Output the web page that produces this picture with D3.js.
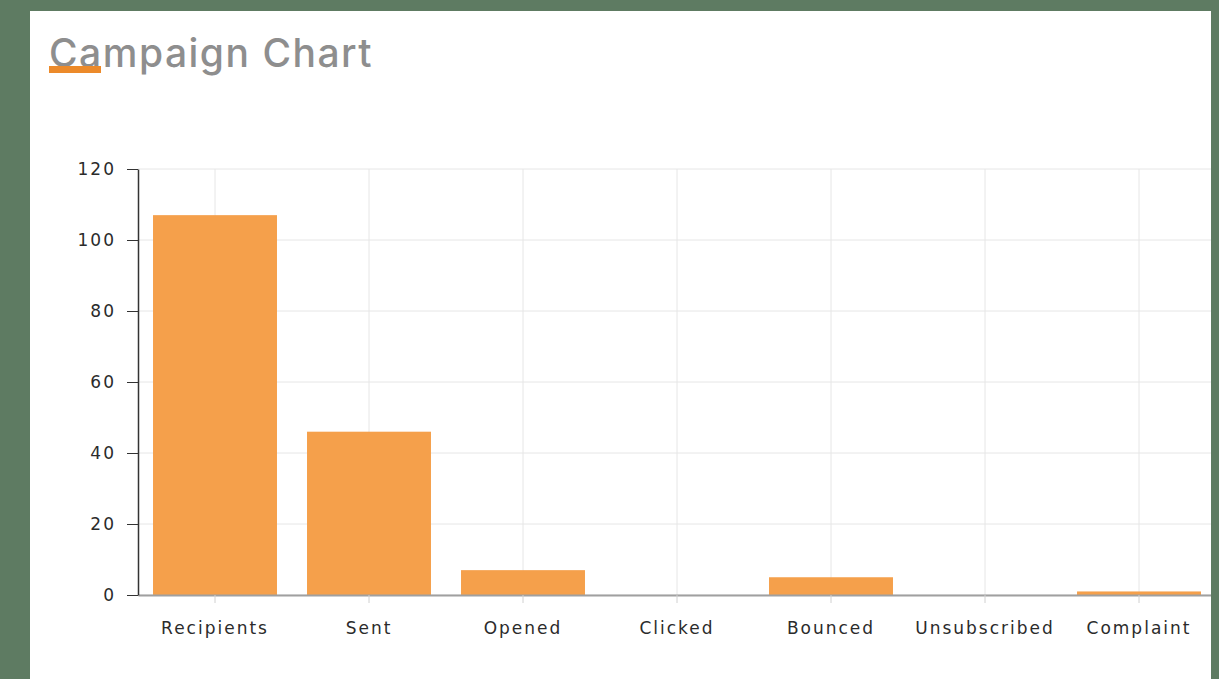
<!DOCTYPE html>
<html>
<head>
<meta charset="utf-8">
<script src="https://cdn.jsdelivr.net/npm/d3@7"></script>
<style>
  body { margin: 0; background: #5e7b62; }
  svg { display: block; }
</style>
</head>
<body>
<svg id="Canvas" width="1219" height="679"></svg>
<script>
var categories = ["Recipients", "Sent", "Opened", "Clicked", "Bounced", "Unsubscribed", "Complaint"];
var counts = [107, 46, 7, 0, 5, 0, 1];
var yTicks = [0, 20, 40, 60, 80, 100, 120];

var svg = d3.select("#Canvas");

// white panel
svg.append("rect")
  .attr("x", 30).attr("y", 11)
  .attr("width", 1181).attr("height", 668)
  .attr("fill", "#ffffff");

svg.append("text")
  .attr("x", 49).attr("y", 67)
  .attr("font-family", "Inter, 'Open Sans', sans-serif")
  .attr("font-size", 39)
  .attr("font-weight", 500)
  .attr("letter-spacing", 1.5)
  .attr("fill", "#8e8e8e")
  .text("Campaign Chart");

svg.append("rect")
  .attr("x", 49).attr("y", 66)
  .attr("width", 52).attr("height", 7)
  .attr("fill", "#ec8a2a");

var plotLeft = 138, plotBottom = 595, plotTop = 169;
var step = 154;

svg.append("clipPath").attr("id", "panel")
  .append("rect").attr("x", 30).attr("y", 0).attr("width", 1181).attr("height", 679);

var g = svg.append("g").attr("clip-path", "url(#panel)");

var x = d3.scaleBand()
  .domain(categories)
  .range([plotLeft, plotLeft + step * categories.length])
  .paddingInner(0.195)
  .paddingOuter(0.0975);

var y = d3.scaleLinear().domain([0, 120]).range([plotBottom, plotTop]);

var font = "'DejaVu Sans', Verdana, sans-serif";

// horizontal grid
g.selectAll(".hgrid")
  .data(yTicks)
  .enter()
  .append("line")
  .attr("x1", plotLeft).attr("x2", 1219)
  .attr("y1", function (d) { return y(d); })
  .attr("y2", function (d) { return y(d); })
  .style("stroke", "#e6e6e6");

// vertical grid at band centres
g.selectAll(".vgrid")
  .data(categories)
  .enter()
  .append("line")
  .attr("x1", function (d) { return x(d) + x.bandwidth() / 2; })
  .attr("x2", function (d) { return x(d) + x.bandwidth() / 2; })
  .attr("y1", plotTop).attr("y2", plotBottom)
  .style("stroke", "#e6e6e6");

// bars
g.selectAll(".bar")
  .data(categories)
  .enter()
  .append("rect")
  .attr("x", function (d) { return x(d); })
  .attr("width", x.bandwidth())
  .attr("y", function (d, i) { return y(counts[i]); })
  .attr("height", function (d, i) { return plotBottom - y(counts[i]); })
  .attr("fill", "#f5a04b");

// x axis
var xAxis = g.append("g")
  .attr("transform", "translate(0," + plotBottom + ")")
  .call(d3.axisBottom(x).tickSize(8).tickPadding(19).tickSizeOuter(0));
xAxis.select(".domain").style("stroke", "#a0a0a0").style("stroke-width", 2);
xAxis.selectAll(".tick line").style("stroke", "#d0d0d0");
xAxis.selectAll("text")
  .attr("font-family", font)
  .attr("font-size", 17)
  .attr("letter-spacing", 2)
  .attr("fill", "#2b2b2b");

// y axis
var yAxis = svg.append("g")
  .attr("transform", "translate(" + plotLeft + ",0)")
  .call(d3.axisLeft(y).tickValues(yTicks).tickSize(11).tickPadding(11).tickSizeOuter(0));
yAxis.select(".domain").style("stroke", "#333").style("stroke-width", 1.5);
yAxis.selectAll(".tick line").style("stroke", "#333");
yAxis.selectAll("text")
  .attr("font-family", font)
  .attr("font-size", 17)
  .attr("letter-spacing", 2)
  .attr("fill", "#2b2b2b");
</script>
</body>
</html>
